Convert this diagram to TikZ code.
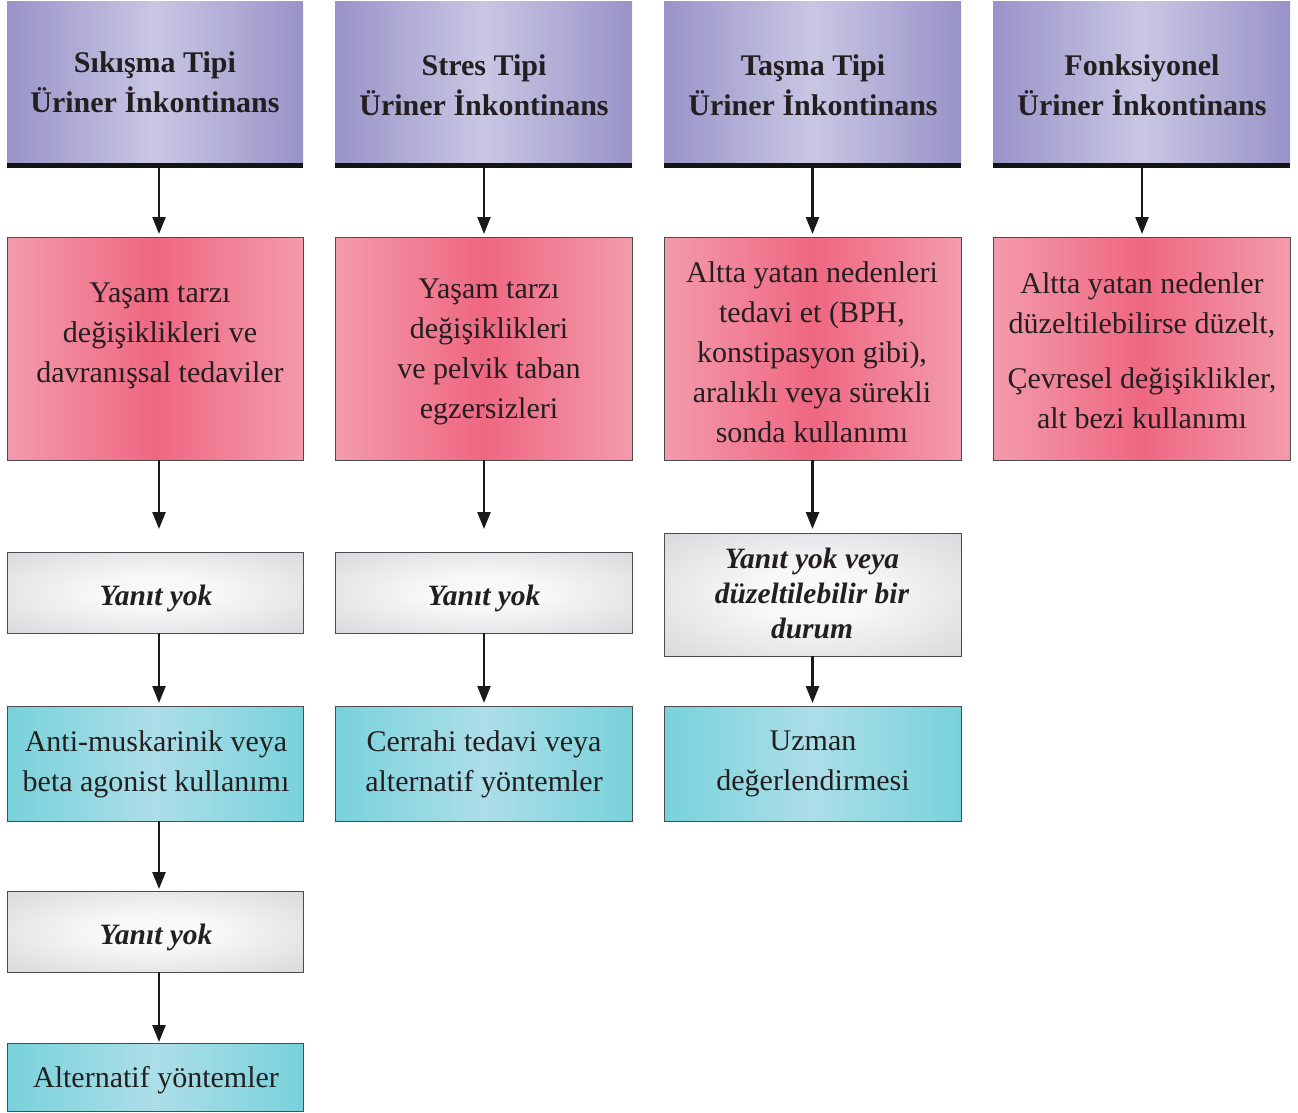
\documentclass[tikz,border=0pt]{standalone}
\usepackage{fontspec}
\setmainfont{Liberation Serif}
\usetikzlibrary{arrows.meta}

\definecolor{ink}{HTML}{231F20}
\definecolor{frame}{HTML}{4D4D4D}
\definecolor{hdrEdge}{RGB}{152,147,200}
\definecolor{hdrMid}{RGB}{201,199,228}
\definecolor{pinkEdge}{RGB}{243,155,172}
\definecolor{pinkMid}{RGB}{239,103,129}
\definecolor{grayEdge}{RGB}{199,200,203}
\definecolor{grayMid}{RGB}{248,248,249}
\definecolor{tealEdge}{RGB}{120,210,219}
\definecolor{tealMid}{RGB}{172,222,232}

% soft radial fade for the "no response" boxes
\pgfdeclareradialshading{softgray}{\pgfpoint{0bp}{0bp}}{%
  color(0bp)=(grayMid); color(10bp)=(grayMid); color(50bp)=(grayEdge); color(72bp)=(grayEdge)}

\tikzset{
  boxbase/.style={rectangle, inner sep=0pt, outer sep=0pt},
  hdrbox/.style={boxbase, left color=hdrEdge, right color=hdrEdge, middle color=hdrMid},
  pinkbox/.style={boxbase, draw=frame, line width=0.8pt, left color=pinkEdge, right color=pinkEdge, middle color=pinkMid},
  graybox/.style={boxbase, draw=frame, line width=0.8pt, shading=softgray},
  tealbox/.style={boxbase, draw=frame, line width=0.8pt, left color=tealEdge, right color=tealEdge, middle color=tealMid},
  bodytext/.style={align=center, text=ink, inner sep=0pt, font=\fontsize{30}{40}\selectfont},
  hdrtext/.style={bodytext, font=\fontsize{30}{40}\selectfont\bfseries},
  notext/.style={bodytext, font=\fontsize{29.5}{35}\selectfont\bfseries\itshape},
  flow/.style={line width=2.4pt, draw=black!90, -{Triangle[length=17pt,width=13pt]}},
  rule/.style={line width=5pt, draw=black!92}
}

\begin{document}
\begin{tikzpicture}[x=1pt,y=-1pt]
\useasboundingbox (0,0) rectangle (1298,1112);

% ---- header boxes ----
\node[hdrbox, minimum width=296pt, minimum height=164pt] (h1) at (155,83) {};
\node[hdrbox, minimum width=297pt, minimum height=164pt] (h2) at (483.5,83) {};
\node[hdrbox, minimum width=297pt, minimum height=164pt] (h3) at (812.5,83) {};
\node[hdrbox, minimum width=297pt, minimum height=164pt] (h4) at (1141.5,83) {};
\foreach \n in {h1,h2,h3,h4}
  \draw[rule] ([yshift=-0.5pt]\n.south west) -- ([yshift=-0.5pt]\n.south east);

\node[hdrtext] (ht1) at (155,82) {Sıkışma Tipi\\Üriner İnkontinans};
\node[hdrtext] (ht2) at (484,85) {Stres Tipi\\Üriner İnkontinans};
\node[hdrtext] (ht3) at (813,85) {Taşma Tipi\\Üriner İnkontinans};
\node[hdrtext] (ht4) at (1142,85) {Fonksiyonel\\Üriner İnkontinans};

% ---- first treatment step ----
\node[pinkbox, minimum width=296pt, minimum height=223pt] (p1) at (155,348.5) {};
\node[pinkbox, minimum width=297pt, minimum height=223pt] (p2) at (483.5,348.5) {};
\node[pinkbox, minimum width=297pt, minimum height=223pt] (p3) at (812.5,348.5) {};
\node[pinkbox, minimum width=297pt, minimum height=223pt] (p4) at (1141.5,348.5) {};

\node[bodytext] (pt1) at (160,336) {Yaşam tarzı\\değişiklikleri ve\\davranışsal tedaviler};
\node[bodytext] (pt2) at (489,352) {Yaşam tarzı\\değişiklikleri\\ve pelvik taban\\egzersizleri};
\node[bodytext] (pt3) at (812,352) {Altta yatan nedenleri\\tedavi et (BPH,\\konstipasyon gibi),\\aralıklı veya sürekli\\sonda kullanımı};
\node[bodytext] (pt4) at (1142,351) {Altta yatan nedenler\\düzeltilebilirse düzelt,\\[15pt]Çevresel değişiklikler,\\alt bezi kullanımı};

% ---- no-response boxes ----
\node[graybox, minimum width=296pt, minimum height=81pt] (g1) at (155,592.5) {};
\node[graybox, minimum width=297pt, minimum height=81pt] (g2) at (483.5,592.5) {};
\node[graybox, minimum width=297pt, minimum height=123pt] (g3) at (812.5,594.5) {};
\node[notext] (gt1) at (156,598) {Yanıt yok};
\node[notext] (gt2) at (484,598) {Yanıt yok};
\node[notext] (gt3) at (812,593) {Yanıt yok veya\\düzeltilebilir bir\\durum};

% ---- second treatment step ----
\node[tealbox, minimum width=296pt, minimum height=115pt] (t1) at (155,763.5) {};
\node[tealbox, minimum width=297pt, minimum height=115pt] (t2) at (483.5,763.5) {};
\node[tealbox, minimum width=297pt, minimum height=115pt] (t3) at (812.5,763.5) {};
\node[bodytext] (tt1) at (156,764) {Anti-muskarinik veya\\beta agonist kullanımı};
\node[bodytext] (tt2) at (484,764) {Cerrahi tedavi veya\\alternatif yöntemler};
\node[bodytext] (tt3) at (813,764) {Uzman\\değerlendirmesi};

% ---- last steps of the first column ----
\node[graybox, minimum width=296pt, minimum height=81pt] (g4) at (155,931.5) {};
\node[notext] (gt4) at (156,937) {Yanıt yok};
\node[tealbox, minimum width=296pt, minimum height=68pt] (t4) at (155,1077) {};
\node[bodytext] (tt4) at (156,1080) {Alternatif yöntemler};

% ---- connectors ----
\draw[flow, shorten >=3pt] ([xshift=4pt,yshift=-3pt]h1.south) -- ([xshift=4pt]p1.north);
\draw[flow, shorten >=3pt] ([xshift=0.5pt,yshift=-3pt]h2.south) -- ([xshift=0.5pt]p2.north);
\draw[flow, shorten >=3pt] ([yshift=-3pt]h3.south) -- (p3.north);
\draw[flow, shorten >=3pt] ([xshift=0.5pt,yshift=-3pt]h4.south) -- ([xshift=0.5pt]p4.north);

\draw[flow, shorten >=23pt] ([xshift=4pt]p1.south) -- ([xshift=4pt]g1.north);
\draw[flow, shorten >=23pt] ([xshift=0.5pt]p2.south) -- ([xshift=0.5pt]g2.north);
\draw[flow, shorten >=4pt] (p3.south) -- (g3.north);

\draw[flow, shorten >=3pt] ([xshift=4pt]g1.south) -- ([xshift=4pt]t1.north);
\draw[flow, shorten >=3pt] ([xshift=0.5pt]g2.south) -- ([xshift=0.5pt]t2.north);
\draw[flow, shorten >=3pt] (g3.south) -- (t3.north);

\draw[flow, shorten >=2pt] ([xshift=4pt]t1.south) -- ([xshift=4pt]g4.north);
\draw[flow, shorten >=1pt] ([xshift=4pt]g4.south) -- ([xshift=4pt]t4.north);
\end{tikzpicture}
\end{document}
